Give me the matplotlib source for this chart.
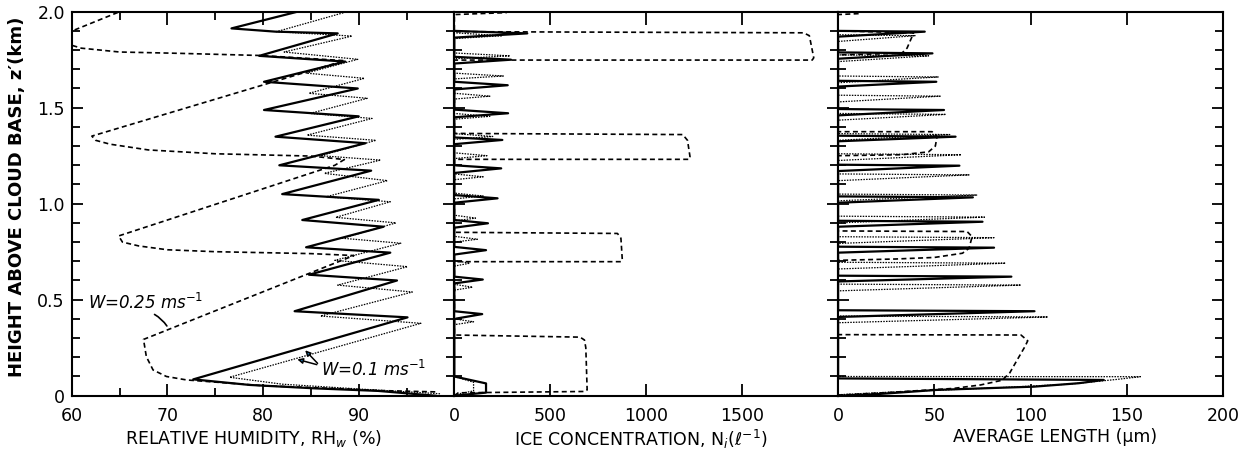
import matplotlib.pyplot as plt
from matplotlib.ticker import MultipleLocator

plt.rcParams['font.family'] = 'DejaVu Sans'

# ---- relative humidity profiles (RH %, height km)
rh_solid = [98.0, 92.0, 85.5, 78.6, 72.7, 95.1, 83.3, 94.0, 84.8, 93.3, 84.5,
            92.6, 84.1, 92.1, 82.0, 91.3, 81.7, 90.7, 81.3, 90.0, 80.1, 89.9,
            80.1, 88.6, 79.6, 87.8, 81.3, 76.7, 83.6, 84.5]
z_rh_solid = [0.0, 0.025, 0.038, 0.056, 0.085, 0.408, 0.44, 0.60, 0.63, 0.745,
              0.773, 0.88, 0.915, 1.02, 1.05, 1.172, 1.20, 1.315, 1.349, 1.455,
              1.488, 1.60, 1.635, 1.74, 1.77, 1.887, 1.896, 1.913, 2.0, 2.02]

rh_dot = [98.5, 90.0, 82.0, 76.5, 96.5, 86.0, 95.6, 87.8, 95.1, 87.5, 94.4,
          88.3, 93.9, 87.6, 93.3, 86.6, 93.0, 86.4, 92.3, 86.0, 91.8, 84.6,
          91.4, 84.9, 90.9, 84.8, 90.6, 84.5, 89.9, 82.2, 89.3, 81.4, 88.8, 89.0]
z_rh_dot = [0.01, 0.035, 0.06, 0.096, 0.377, 0.415, 0.54, 0.576, 0.672, 0.705,
            0.794, 0.82, 0.90, 0.929, 1.01, 1.036, 1.12, 1.158, 1.227, 1.25,
            1.33, 1.357, 1.444, 1.47, 1.549, 1.575, 1.653, 1.68, 1.752, 1.79,
            1.873, 1.896, 2.0, 2.02]

rh_dash = [98.0, 92.0, 87.3, 80.0, 76.8, 72.0, 69.9, 68.5, 67.8, 67.5, 89.5,
           85.0, 75.0, 70.0, 67.0, 65.3, 64.9, 87.5, 88.5, 85.0, 75.0, 68.0,
           64.0, 62.5, 62.1, 88.5, 82.0, 79.6, 71.3, 65.0, 61.0, 59.0, 58.5,
           60.3, 66.0]
z_rh_dash = [0.02, 0.027, 0.038, 0.052, 0.064, 0.082, 0.10, 0.134, 0.203, 0.293,
             0.73, 0.74, 0.75, 0.76, 0.78, 0.80, 0.832, 1.20, 1.23, 1.248, 1.26,
             1.28, 1.31, 1.33, 1.352, 1.745, 1.765, 1.772, 1.783, 1.79, 1.81,
             1.84, 1.87, 1.905, 2.02]

# ---- ice concentration (per litre)
ni_dash = [0, 20, 680, 692, 685, 678, 655, 0, 0, 870, 875, 868, 850, 0, 0,
           1225, 1228, 1215, 1190, 0, 0, 1865, 1873, 1850, 1820, 0, 0, 270, 300]
z_ni_dash = [0.0, 0.015, 0.022, 0.03, 0.25, 0.29, 0.305, 0.316, 0.698, 0.698,
             0.71, 0.82, 0.845, 0.851, 1.231, 1.231, 1.245, 1.33, 1.36, 1.366,
             1.748, 1.748, 1.76, 1.875, 1.89, 1.896, 1.985, 1.995, 2.02]

ni_solid_base = [0, 165, 165, 0]
z_ni_solid_base = [0.0, 0.016, 0.064, 0.10]
ni_solid_zlo = [0.40, 0.585, 0.735, 0.875, 1.005, 1.16, 1.31, 1.45, 1.595, 1.73, 1.865]
ni_solid_ztip = [0.425, 0.605, 0.758, 0.898, 1.028, 1.184, 1.332, 1.471, 1.617, 1.75, 1.887]
ni_solid_zhi = [0.44, 0.62, 0.775, 0.915, 1.045, 1.20, 1.345, 1.49, 1.635, 1.765, 1.90]
ni_solid_peak = [145, 148, 165, 175, 225, 244, 250, 280, 278, 295, 380]

ni_dot_base = [0, 100, 100, 0]
z_ni_dot_base = [0.005, 0.025, 0.07, 0.10]
ni_dot_zlo = [0.37, 0.55, 0.675, 0.80, 0.91, 1.025, 1.125, 1.235, 1.335, 1.44,
              1.545, 1.65, 1.755, 1.86]
ni_dot_ztip = [0.385, 0.565, 0.69, 0.815, 0.925, 1.04, 1.14, 1.25, 1.35, 1.455,
               1.56, 1.665, 1.77, 1.875]
ni_dot_zhi = [0.40, 0.58, 0.705, 0.83, 0.94, 1.055, 1.155, 1.265, 1.365, 1.47,
              1.575, 1.68, 1.785, 1.89]
ni_dot_peak = [100, 95, 80, 120, 110, 150, 150, 170, 200, 185, 185, 255, 290, 250]

# ---- average crystal length (um)
len_dash = [0, 25, 60, 74, 85, 89, 93, 97, 98.5, 95, 0, 0, 30, 50, 64.6, 68,
            69.6, 67, 0, 0, 33, 47, 50.5, 51.4, 48.8, 0, 0, 33, 35.8, 38.4,
            39.2, 0, 0, 11, 14]
z_len_dash = [0.003, 0.016, 0.038, 0.056, 0.08, 0.116, 0.186, 0.255, 0.286,
              0.316, 0.318, 0.705, 0.712, 0.72, 0.742, 0.768, 0.828, 0.855,
              0.858, 1.25, 1.255, 1.27, 1.30, 1.35, 1.375, 1.375, 1.775, 1.783,
              1.81, 1.87, 1.89, 1.90, 1.985, 1.99, 2.02]

len_solid_base = [0, 20, 51, 80, 101.7, 125, 138, 0]
z_len_solid_base = [0.0, 0.008, 0.03, 0.04, 0.047, 0.065, 0.082, 0.09]
len_solid_zlo = [0.41, 0.595, 0.745, 0.88, 1.005, 1.17, 1.325, 1.46, 1.61, 1.755, 1.87]
len_solid_ztip = [0.44, 0.62, 0.771, 0.906, 1.033, 1.198, 1.349, 1.488, 1.635, 1.783, 1.896]
len_solid_zhi = [0.445, 0.625, 0.776, 0.911, 1.038, 1.203, 1.354, 1.493, 1.64, 1.788, 1.90]
len_solid_peak = [102, 90, 81, 75, 70, 63, 61, 55, 51, 49, 45]

len_dot_base = [0, 30, 80, 120, 145, 157, 0]
z_len_dot_base = [0.005, 0.02, 0.04, 0.06, 0.085, 0.099, 0.10]
len_dot_zlo = [0.38, 0.546, 0.66, 0.793, 0.90, 1.015, 1.12, 1.225, 1.33, 1.435,
               1.53, 1.63, 1.74, 1.845]
len_dot_ztip = [0.41, 0.576, 0.69, 0.823, 0.93, 1.045, 1.15, 1.255, 1.36, 1.465,
                1.56, 1.66, 1.77, 1.875]
len_dot_zhi = [0.415, 0.581, 0.695, 0.828, 0.935, 1.05, 1.155, 1.26, 1.365, 1.47,
               1.565, 1.665, 1.775, 1.88]
len_dot_peak = [109, 95, 87, 81, 76, 72, 68, 64, 58, 56, 53, 52, 47, 40]


def spikes(base_x, base_z, zlo, ztip, zhi, peak):
    """Chain narrow spikes off the zero axis after the base segment."""
    xs, zs = list(base_x), list(base_z)
    for a, b, c, p in zip(zlo, ztip, zhi, peak):
        xs += [0, p, 0]
        zs += [a, b, c]
    return xs, zs


SOLID = dict(color='black', lw=1.6, ls='-')
FINE = dict(color='black', lw=0.9, ls=(0, (1.2, 1.0)))
DASH = dict(color='black', lw=1.2, ls=(0, (3, 2)))

fig = plt.figure(figsize=(12.5, 4.53), dpi=100)
bottom, height = 0.1265, 0.8477
ax1 = fig.add_axes([0.0574, bottom, 0.3061, height])
ax2 = fig.add_axes([0.3635, bottom, 0.3070, height])
ax3 = fig.add_axes([0.6705, bottom, 0.3080, height])

ax1.plot(rh_dash, z_rh_dash, **DASH)
ax1.plot(rh_dot, z_rh_dot, **FINE)
ax1.plot(rh_solid, z_rh_solid, **SOLID)

ax2.plot(ni_dash, z_ni_dash, **DASH)
x, z = spikes(ni_dot_base, z_ni_dot_base, ni_dot_zlo, ni_dot_ztip, ni_dot_zhi, ni_dot_peak)
ax2.plot(x, z, **FINE)
x, z = spikes(ni_solid_base, z_ni_solid_base, ni_solid_zlo, ni_solid_ztip,
              ni_solid_zhi, ni_solid_peak)
ax2.plot(x, z, **SOLID)

ax3.plot(len_dash, z_len_dash, **DASH)
x, z = spikes(len_dot_base, z_len_dot_base, len_dot_zlo, len_dot_ztip, len_dot_zhi, len_dot_peak)
ax3.plot(x, z, **FINE)
x, z = spikes(len_solid_base, z_len_solid_base, len_solid_zlo, len_solid_ztip,
              len_solid_zhi, len_solid_peak)
ax3.plot(x, z, **SOLID)

ax1.set_xlim(60, 100)
ax1.set_xticks([60, 70, 80, 90, 100], ['60', '70', '80', '90', ''])
ax1.xaxis.set_minor_locator(MultipleLocator(5))
ax2.set_xlim(0, 2000)
ax2.set_xticks([0, 500, 1000, 1500, 2000], ['0', '500', '1000', '1500', ''])
ax3.set_xlim(0, 200)
ax3.set_xticks([0, 50, 100, 150, 200])

for ax in (ax1, ax2, ax3):
    ax.set_ylim(0, 2.0)
    ax.set_yticks([0, 0.5, 1.0, 1.5, 2.0])
    ax.yaxis.set_minor_locator(MultipleLocator(0.1))
    for s in ax.spines.values():
        s.set_linewidth(1.5)
    ax.tick_params(which='both', direction='in', top=True, right=True, width=1.3,
                   labelsize=12.5)
    ax.tick_params(axis='x', which='major', length=9, pad=8)
    ax.tick_params(axis='x', which='minor', length=6)
    ax.tick_params(axis='y', which='major', length=8, pad=5)
    ax.tick_params(axis='y', which='minor', length=6)
    if ax is not ax1:
        ax.tick_params(axis='y', labelleft=False)

ax1.set_yticklabels(['0', '0.5', '1.0', '1.5', '2.0'])

ax1.set_xlabel('RELATIVE HUMIDITY, RH$_w$ (%)', fontsize=12.5)
ax1.xaxis.set_label_coords(0.476, -0.085)
ax2.set_xlabel('ICE CONCENTRATION, N$_i$(ℓ$^{-1}$)', fontsize=12.5)
ax2.xaxis.set_label_coords(0.487, -0.085)
ax3.set_xlabel('AVERAGE LENGTH (μm)', fontsize=12.5)
ax3.xaxis.set_label_coords(0.564, -0.085)

fig.text(0.014, 0.565, 'HEIGHT ABOVE CLOUD BASE, z′(km)', rotation=90,
         ha='center', va='center', fontsize=13, fontweight='bold')

# curve labels
ax1.text(61.7, 0.483, 'W=0.25 ms$^{-1}$', fontsize=12, style='italic', va='center')
ax1.annotate('', xy=(70.1, 0.351), xytext=(68.4, 0.43),
             arrowprops=dict(arrowstyle='-', lw=1.2, connectionstyle='arc3,rad=-0.15'))
ax1.text(86.1, 0.134, 'W=0.1 ms$^{-1}$', fontsize=12, style='italic', va='center')
ax1.annotate('', xy=(84.2, 0.247), xytext=(85.9, 0.158),
             arrowprops=dict(arrowstyle='-|>', lw=1.1, mutation_scale=8))
ax1.annotate('', xy=(83.3, 0.193), xytext=(85.9, 0.158),
             arrowprops=dict(arrowstyle='-|>', lw=1.1, mutation_scale=8))

fig.savefig('out.png', dpi=100)
